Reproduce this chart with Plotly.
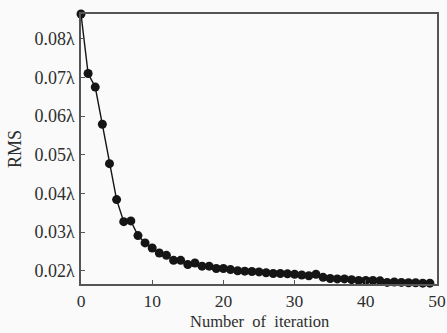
import plotly.graph_objects as go

iterations = list(range(50))
rms = [0.0864, 0.0710, 0.0675, 0.0579, 0.0477, 0.0384, 0.0327, 0.0329, 0.0291, 0.0272,
       0.0259, 0.0246, 0.0240, 0.0227, 0.0227, 0.0216, 0.0220, 0.0212, 0.0212, 0.0206,
       0.0206, 0.0203, 0.0200, 0.0199, 0.0198, 0.0197, 0.0195, 0.0193, 0.0193, 0.0192,
       0.0191, 0.0189, 0.0187, 0.0191, 0.0183, 0.0180, 0.0179, 0.0179, 0.0177, 0.0175,
       0.0175, 0.0175, 0.0174, 0.0170, 0.0171, 0.0170, 0.0169, 0.0169, 0.0168, 0.0168]

x_ticks = [0, 10, 20, 30, 40, 50]
y_ticks = [0.02, 0.03, 0.04, 0.05, 0.06, 0.07, 0.08]
y_tick_labels = ["0.02λ", "0.03λ", "0.04λ", "0.05λ", "0.06λ", "0.07λ", "0.08λ"]
x_title = "Number  of  iteration"
y_title = "RMS"

font_family = "Liberation Serif, Times New Roman, serif"
axis_color = "#555555"
text_color = "#2e2e2e"

fig = go.Figure()
fig.add_trace(go.Scatter(
    x=iterations, y=rms, mode="lines+markers",
    line=dict(color="#151515", width=1.4),
    marker=dict(color="#151515", size=9),
    cliponaxis=False,
))

fig.update_layout(
    width=447, height=333,
    margin=dict(l=81, r=10, t=14, b=49, autoexpand=False),
    paper_bgcolor="#fafafa", plot_bgcolor="#fafafa",
    showlegend=False,
    font=dict(family=font_family, size=18, color=text_color),
)
fig.add_annotation(
    text=x_title, xref="paper", yref="paper", x=0.5, y=0,
    xanchor="center", yanchor="bottom", yshift=-48, showarrow=False,
    borderpad=0,
    font=dict(family=font_family, size=16.5, color=text_color),
)
fig.update_xaxes(
    range=[0, 50], tickvals=x_ticks, ticks="inside", ticklen=4, tickwidth=1.2,
    tickcolor=axis_color, showline=True, linecolor=axis_color, linewidth=1.5,
    mirror=True, showgrid=False, zeroline=False, ticklabelstandoff=0,
    automargin=False,
    tickfont=dict(family=font_family, size=17.5, color=text_color),
)
fig.update_yaxes(
    range=[0.01658, 0.0864], tickvals=y_ticks, ticktext=y_tick_labels,
    ticks="inside", ticklen=4, tickwidth=1.2,
    tickcolor=axis_color, showline=True, linecolor=axis_color, linewidth=1.5,
    mirror=True, showgrid=False, zeroline=False, ticklabelstandoff=1,
    automargin=False,
    tickfont=dict(family=font_family, size=18, color=text_color),
    title=dict(text=y_title, standoff=8,
               font=dict(family=font_family, size=18, color=text_color)),
)

fig.write_html("out.html")
